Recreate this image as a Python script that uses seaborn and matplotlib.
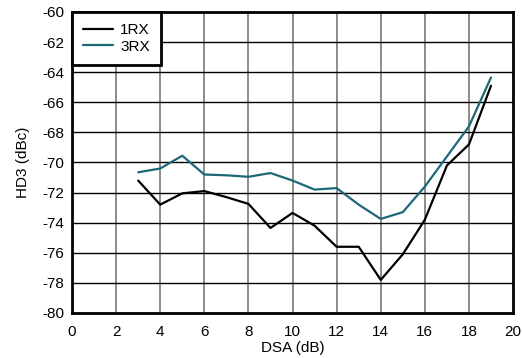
import numpy as np
import pandas as pd
import matplotlib
matplotlib.use('Agg')
import matplotlib.pyplot as plt
import seaborn as sns

dsa = [3, 4, 5, 6, 7, 8, 9, 10, 11, 12, 13, 14, 15, 16, 17, 18, 19]
hd3_1rx = [-71.2, -72.8, -72.05, -71.9, -72.3, -72.75, -74.35, -73.35, -74.2, -75.6,
           -75.6, -77.8, -76.1, -73.8, -70.2, -68.8, -64.9]
hd3_3rx = [-70.65, -70.4, -69.55, -70.8, -70.85, -70.95, -70.7, -71.2, -71.8, -71.7,
           -72.8, -73.75, -73.3, -71.6, -69.6, -67.6, -64.35]

x_ticks = list(range(0, 21, 2))
y_ticks = list(range(-80, -59, 2))

df = pd.concat([
    pd.DataFrame({"DSA": dsa, "HD3": hd3_1rx, "series": "1RX"}),
    pd.DataFrame({"DSA": dsa, "HD3": hd3_3rx, "series": "3RX"}),
])

sns.set_style("white")
plt.rcParams['font.family'] = ['Liberation Sans', 'DejaVu Sans']
plt.rcParams['axes.unicode_minus'] = False
plt.rcParams['text.color'] = 'black'
plt.rcParams['axes.labelcolor'] = 'black'
plt.rcParams['xtick.color'] = 'black'
plt.rcParams['ytick.color'] = 'black'

fig = plt.figure(figsize=(5.23, 3.58), dpi=100)
ax = fig.add_axes([0.1377, 0.1257, 0.8433, 0.8408])

sns.lineplot(data=df, x="DSA", y="HD3", hue="series",
             palette={"1RX": "black", "3RX": "#1d6878"},
             linewidth=1.6, ax=ax)

ax.set_xlim(0, 20)
ax.set_ylim(-80, -60)
ax.set_xticks(x_ticks)
ax.set_yticks(y_ticks)
ax.tick_params(axis="x", labelsize=11, length=0, pad=8.5)
ax.tick_params(axis="y", labelsize=11, length=0, pad=5.5)

for x in x_ticks[1:-1]:
    ax.axvline(x, color="#6e6e6e", linewidth=1.1, zorder=0)
for y in y_ticks[1:-1]:
    ax.axhline(y, color="black", linewidth=1.0, zorder=0)

for s in ax.spines.values():
    s.set_linewidth(2)
    s.set_color("black")

ax.set_xlabel("DSA (dB)", fontsize=11, labelpad=1.5)
ax.set_ylabel("HD3 (dBc)", fontsize=11, labelpad=9)

leg = ax.legend(loc="upper left", fontsize=11, frameon=True, fancybox=False,
                borderaxespad=0, handlelength=1.9, handletextpad=0.5,
                labelspacing=0.15, borderpad=0.75)
leg.get_frame().set_edgecolor("black")
leg.get_frame().set_linewidth(2)
leg.get_frame().set_facecolor("white")
leg.get_frame().set_alpha(1)
leg.set_title(None)

plt.savefig("out.png", dpi=100)
plt.close()
